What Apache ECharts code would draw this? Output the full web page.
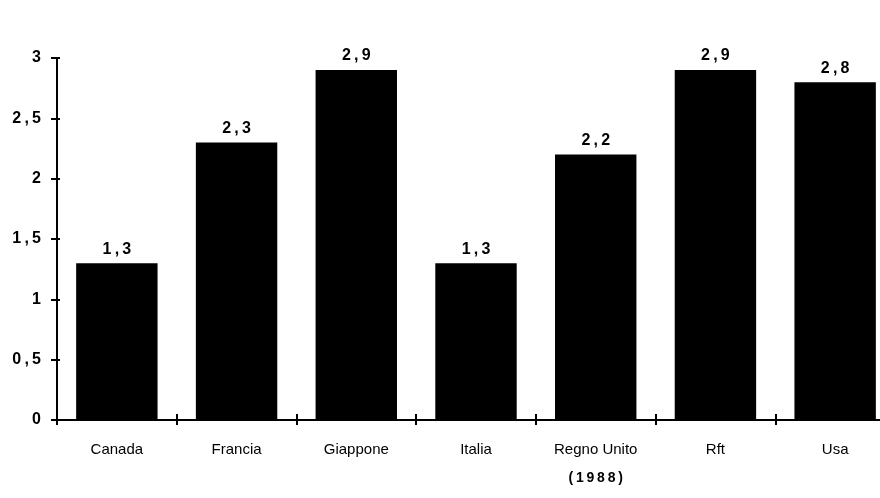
<!DOCTYPE html>
<html>
<head>
<meta charset="utf-8">
<script src="https://cdn.jsdelivr.net/npm/echarts@6/dist/echarts.min.js"></script>
<style>
  html, body { margin: 0; padding: 0; background: #fff; overflow: hidden; }
  #chart { width: 880px; height: 498px; }
</style>
</head>
<body>
<div id="chart"></div>
<script>
// Paesi e valori (scala 0–3)
const categories = ['Canada', 'Francia', 'Giappone', 'Italia', 'Regno Unito\n(1988)', 'Rft', 'Usa'];
const values = [1.3, 2.3, 2.9, 1.3, 2.2, 2.9, 2.8];
const yTicks = [0, 0.5, 1, 1.5, 2, 2.5, 3];

const FONT = '"Liberation Sans", Arial, sans-serif';
const THIN = String.fromCharCode(8201);
const spaced = s => String(s).split('').join(THIN);
const comma = v => String(v).replace('.', ',');

const chart = echarts.init(document.getElementById('chart'));
chart.setOption({
  animation: false,
  backgroundColor: '#fff',
  grid: { left: 57, width: 838, top: 58, bottom: 78, outerBoundsMode: 'none', containLabel: false },
  xAxis: [
    {
      type: 'category',
      data: categories,
      position: 'bottom',
      axisLine: { lineStyle: { color: '#000', width: 2 } },
      axisTick: { show: true, length: 5, lineStyle: { color: '#000', width: 2 } },
      axisLabel: {
        margin: 15,
        color: '#000',
        fontFamily: FONT,
        fontSize: 15,
        lineHeight: 29,
        formatter: v => {
          const parts = v.split('\n');
          return parts.length > 1 ? parts[0] + '\n{b|' + spaced(parts[1]) + '}' : v;
        },
        rich: { b: { fontWeight: 'bold', fontSize: 14, fontFamily: FONT, color: '#000', lineHeight: 29 } }
      },
      splitLine: { show: false }
    },
    {
      // tacche interne sull'asse delle categorie
      type: 'category',
      data: categories,
      position: 'bottom',
      offset: 0,
      axisLine: { show: true, lineStyle: { opacity: 0 } },
      axisTick: { show: true, inside: true, length: 6, lineStyle: { color: '#000', width: 2 } },
      axisLabel: { show: false },
      splitLine: { show: false }
    }
  ],
  yAxis: [
    {
      type: 'value',
      min: yTicks[0],
      max: yTicks[yTicks.length - 1],
      interval: 0.5,
      position: 'left',
      axisLine: { show: true, lineStyle: { color: '#000', width: 2 } },
      axisTick: { show: true, length: 6, lineStyle: { color: '#000', width: 2 } },
      axisLabel: {
        margin: 16,
        color: '#000',
        fontFamily: FONT,
        fontWeight: 'bold',
        fontSize: 16,
        formatter: v => spaced(comma(v))
      },
      splitLine: { show: false }
    },
    {
      // tacche interne sull'asse dei valori
      type: 'value',
      min: yTicks[0],
      max: yTicks[yTicks.length - 1],
      interval: 0.5,
      position: 'left',
      offset: 0,
      axisLine: { show: true, lineStyle: { opacity: 0 } },
      axisTick: { show: true, inside: true, length: 3, lineStyle: { color: '#000', width: 2 } },
      axisLabel: { show: false },
      splitLine: { show: false }
    }
  ],
  series: [{
    type: 'bar',
    data: values,
    barWidth: '68%',
    itemStyle: { color: '#000' },
    label: {
      show: true,
      position: 'top',
      distance: 6,
      color: '#000',
      fontFamily: FONT,
      fontWeight: 'bold',
      fontSize: 16,
      formatter: p => spaced(comma(p.value))
    }
  }]
});
</script>
</body>
</html>
